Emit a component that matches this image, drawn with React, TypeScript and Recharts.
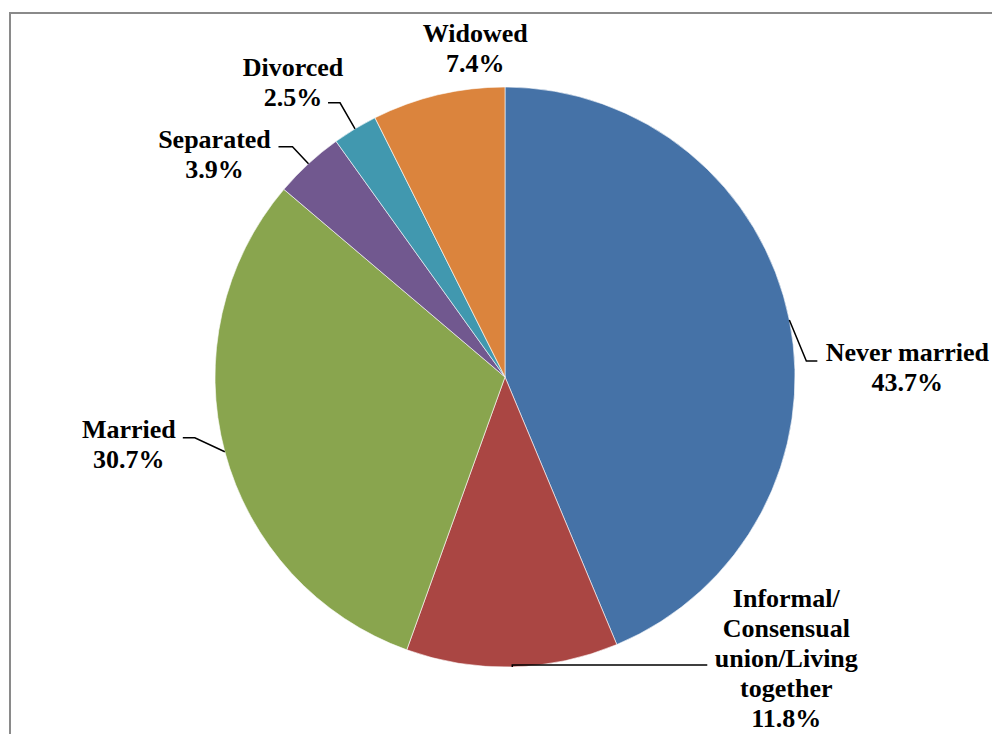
import { Cell, Pie, PieChart } from 'recharts';

// Estado civil: una sola tarta, empezando a las 12 y en sentido horario.
const categorias = [
  'Never married',
  'Informal/Consensual union/Living together',
  'Married',
  'Separated',
  'Divorced',
  'Widowed',
];
const porcentajes = [43.7, 11.8, 30.7, 3.9, 2.5, 7.4];
const lineasEtiqueta = [
  ['Never married'],
  ['Informal/', 'Consensual', 'union/Living', 'together'],
  ['Married'],
  ['Separated'],
  ['Divorced'],
  ['Widowed'],
];
const colores = ['#4572a7', '#aa4643', '#89a54e', '#71588f', '#4198af', '#db843d'];

// Colocación de cada etiqueta respecto al punto medio del borde de su porción:
// codo de la línea guía, final horizontal y centro/primera línea base del texto.
const colocacion = [
  { codo: [17, 41], fin: 11, texto: [118, 41], linea: true },
  { codo: [0, -2], fin: 195, texto: [274, -60], linea: true },
  { codo: [-30, -14], fin: -12, texto: [-96, -14], linea: true },
  { codo: [-16, -17], fin: -14, texto: [-94, -16], linea: true },
  { codo: [-15, -26], fin: -12, texto: [-62, -53], linea: true },
  { codo: [0, 0], fin: 0, texto: [37, -53], linea: false },
];

const datos = categorias.map((nombre, i) => ({ nombre, valor: porcentajes[i] }));

const RAD = Math.PI / 180;
const INTERLINEA = 30;
const FUENTE = '"Liberation Serif", "Times New Roman", "DejaVu Serif", serif';

function Etiqueta(props: any) {
  const { cx, cy, midAngle, outerRadius, index, value } = props;
  const c = colocacion[index];
  const ex = cx + outerRadius * Math.cos(-midAngle * RAD);
  const ey = cy + outerRadius * Math.sin(-midAngle * RAD);
  const bx = ex + c.codo[0];
  const by = ey + c.codo[1];
  const tx = ex + c.texto[0];
  const ty = ey + c.texto[1];
  const lineas = [...lineasEtiqueta[index], `${Number(value).toFixed(1)}%`];
  return (
    <g>
      {c.linea && (
        <polyline
          points={`${ex},${ey} ${bx},${by} ${bx + c.fin},${by}`}
          fill="none"
          stroke="#000"
          strokeWidth={1.5}
        />
      )}
      <text
        x={tx}
        y={ty}
        textAnchor="middle"
        style={{ fontFamily: FUENTE, fontWeight: 'bold', fontSize: 26, fill: '#000' }}
      >
        {lineas.map((l, i) => (
          <tspan key={i} x={tx} dy={i === 0 ? 0 : INTERLINEA}>
            {l}
          </tspan>
        ))}
      </text>
    </g>
  );
}

export default function App() {
  return (
    <div
      style={{
        position: 'absolute',
        left: 0,
        top: 0,
        width: 992,
        height: 734,
        overflow: 'hidden',
        background: '#fff',
        fontFamily: FUENTE,
      }}
    >
      <div
        style={{
          position: 'absolute',
          left: 9,
          top: 12,
          width: 1100,
          height: 1000,
          border: '2px solid #8a8a8a',
          boxSizing: 'border-box',
        }}
      />
      <div style={{ position: 'absolute', left: 0, top: 0 }}>
        <PieChart width={992} height={734} margin={{ top: 0, right: 0, bottom: 0, left: 0 }}>
          <Pie
            data={datos}
            dataKey="valor"
            nameKey="nombre"
            cx={505}
            cy={377}
            outerRadius={290}
            startAngle={90}
            endAngle={-270}
            stroke="#ffffff"
            strokeWidth={0.6}
            label={Etiqueta}
            labelLine={false}
            isAnimationActive={false}
          >
            {datos.map((d, i) => (
              <Cell key={d.nombre} fill={colores[i]} />
            ))}
          </Pie>
        </PieChart>
      </div>
    </div>
  );
}
